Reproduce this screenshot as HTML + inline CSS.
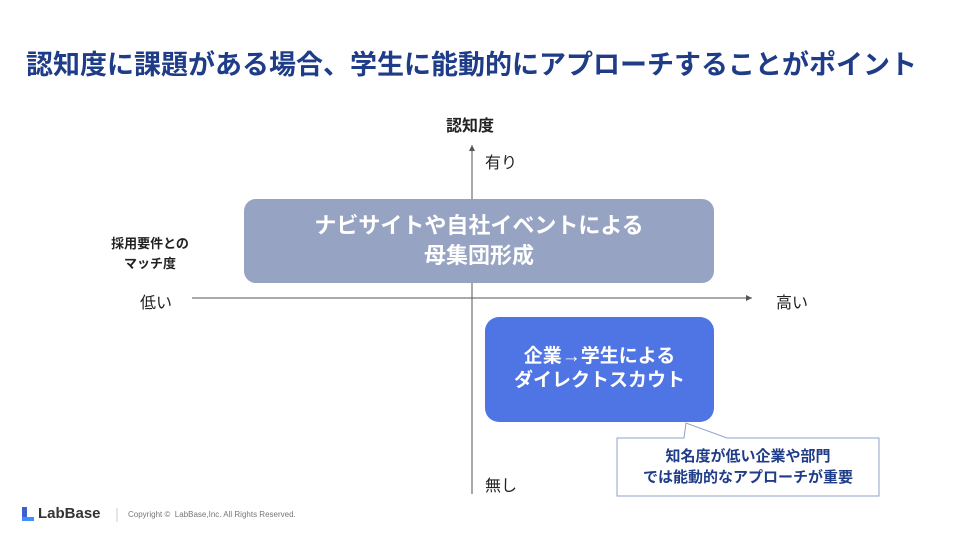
<!DOCTYPE html>
<html><head><meta charset="utf-8"><style>
body{margin:0;width:960px;height:540px;background:#fff;position:relative;overflow:hidden;font-family:"Liberation Sans","Noto Sans CJK JP",sans-serif;}
.a{position:absolute;}
.t{white-space:nowrap;}
</style></head><body>
<div class="a t" style="left:26px;top:43px;font-size:27px;font-weight:bold;color:#1f3c88;letter-spacing:0;">認知度に課題がある場合、学生に能動的にアプローチすることがポイント</div>
<svg class="a" style="left:0;top:0" width="960" height="540">
<defs><marker id="m" markerWidth="8" markerHeight="8" refX="6" refY="3" orient="auto"><path d="M0,0L6,3L0,6z" fill="#555"/></marker></defs>
<line x1="472" y1="494" x2="472" y2="145" stroke="#555" stroke-width="1" marker-end="url(#m)"/>
<line x1="192" y1="298" x2="752" y2="298" stroke="#555" stroke-width="1" marker-end="url(#m)"/>
<rect x="244" y="199" width="470" height="84" rx="12" fill="#97a3c2"/>
<rect x="485" y="317" width="229" height="105" rx="14" fill="#4f74e3"/>
<path d="M617,438 L684,438 L686,423 L727,438 L879,438 L879,496 L617,496 Z" fill="#fff" stroke="#8ea3cc" stroke-width="1"/>
<rect x="22" y="507" width="5" height="14" fill="#3f5fcf"/><rect x="22" y="517" width="12" height="4" fill="#3f8fff"/>
<line x1="117" y1="508" x2="117" y2="522" stroke="#ccc"/>
</svg>
<div class="a t" style="left:446px;top:112px;font-size:16px;font-weight:bold;color:#222;">認知度</div>
<div class="a t" style="left:485px;top:149px;font-size:16px;color:#222;">有り</div>
<div class="a t" style="left:485px;top:472px;font-size:16px;color:#222;">無し</div>
<div class="a t" style="left:140px;top:289px;font-size:16px;color:#222;">低い</div>
<div class="a t" style="left:776px;top:289px;font-size:16px;color:#222;">高い</div>
<div class="a" style="left:100px;top:234px;width:100px;text-align:center;font-size:13px;font-weight:bold;color:#222;line-height:20px;">採用要件との<br>マッチ度</div>
<div class="a" style="left:244px;top:211px;width:470px;text-align:center;font-size:22px;font-weight:bold;color:#fff;line-height:30px;">ナビサイトや自社イベントによる<br>母集団形成</div>
<div class="a" style="left:485px;top:345px;width:229px;text-align:center;font-size:19px;font-weight:bold;color:#fff;line-height:24px;">企業→学生による<br>ダイレクトスカウト</div>
<div class="a" style="left:617px;top:446px;width:262px;text-align:center;font-size:15px;font-weight:bold;color:#1f3c88;line-height:21px;">知名度が低い企業や部門<br>では能動的なアプローチが重要</div>
<div class="a t" style="left:38px;top:505px;font-size:15px;font-weight:bold;color:#333;">LabBase</div>
<div class="a t" style="left:128px;top:510px;font-size:8px;color:#777;">Copyright ©&nbsp; LabBase,Inc. All Rights Reserved.</div>
</body></html>
